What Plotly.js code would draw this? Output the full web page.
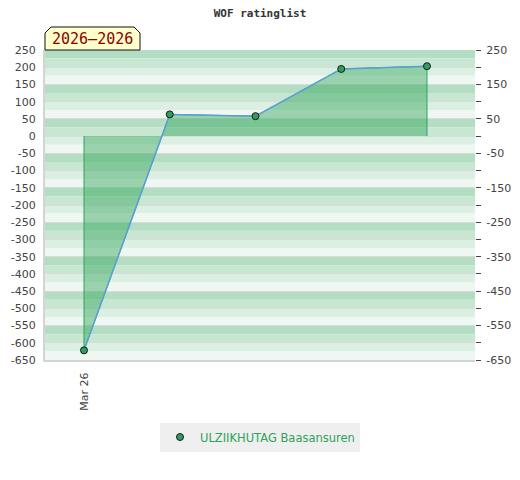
<!DOCTYPE html>
<html>
<head>
<meta charset="utf-8">
<script src="https://cdn.plot.ly/plotly-3.0.1.min.js"></script>
<style>html,body{margin:0;padding:0;background:#fff;}#chart{width:520px;height:480px;}</style>
</head>
<body>
<div id="chart"></div>
<script>
// ---- data ----
const xLabels = ["Mar 26", "", "", "", ""];
const ratings = [-622, 63, 58, 195, 203];
const playerName = "ULZIIKHUTAG Baasansuren";
const periodLabel = "2026\u20132026";
const chartTitle = "WOF ratinglist";
const yTicksLeft = [250,200,150,100,50,0,-50,-100,-150,-200,-250,-300,-350,-400,-450,-500,-550,-600,-650];
const yTicksRight = [250,150,50,-50,-150,-250,-350,-450,-550,-650];

// ---- layout helpers ----
const W = 520, H = 480;
const M = {l:45, r:45, t:50, b:120};
const yMin = -650, yMax = 250;
const xs = ratings.map((_, i) => i);
const px = v => (v - M.l) / (W - M.l - M.r);
const py = v => (H - M.b - v) / (H - M.t - M.b);

// background bands: 4 shades per 100 units
const bandColors = ["#b3dec3", "#c7e7d3", "#dbefe3", "#eef7f1"];
const shapes = [];
for (let top = yMax, k = 0; top > yMin; top -= 25, k++) {
  shapes.push({type:"rect", xref:"paper", yref:"y", x0:0, x1:1, y0:top-25, y1:top,
    fillcolor: bandColors[k % 4], line:{width:0}, layer:"below"});
}
// period box with cut corners
const bx0 = px(45), bx1 = px(140), by0 = py(50), by1 = py(27), cx = px(51), cxr = px(134), cy = py(33);
shapes.push({type:"path", xref:"paper", yref:"paper",
  path:`M ${bx0} ${by0} L ${bx0} ${cy} L ${cx} ${by1} L ${cxr} ${by1} L ${bx1} ${cy} L ${bx1} ${by0} Z`,
  fillcolor:"#ffffcc", line:{color:"#111", width:1}, layer:"above"});

// fill polygon built from the data
const polyX = [xs[0]].concat(xs, [xs[xs.length-1]]);
const polyY = [0].concat(ratings, [0]);

const traces = [
  {x: polyX, y: polyY, type:"scatter", mode:"lines", fill:"toself",
   fillcolor:"rgba(40,160,80,0.42)", line:{color:"#2ea35a", width:1},
   hoverinfo:"skip", showlegend:false},
  {x: xs, y: ratings, type:"scatter", mode:"lines+markers",
   line:{color:"#5aa0d8", width:1.5},
   marker:{size:7, color:"#2f9e5b", line:{color:"#1a1a1a", width:1}},
   showlegend:false, name: playerName},
  {x:[null], y:[null], type:"scatter", mode:"markers", name: playerName, yaxis:"y2",
   marker:{size:7, color:"#2f9e5b", line:{color:"#1a1a1a", width:1}}}
];

const tickFont = {family:"DejaVu Sans", size:11, color:"#444"};
const layout = {
  width: W, height: H, margin: M,
  paper_bgcolor:"#fff", plot_bgcolor:"#fff",
  title:{text: chartTitle, font:{family:"DejaVu Sans Mono", size:11, color:"#333", weight:"bold"},
         x:0.5, xanchor:"center", y:1-13/H, yanchor:"middle", xref:"paper"},
  xaxis:{range:[-0.455, 4.56], tickvals: xs, ticktext: xLabels, tickangle:-90,
         tickfont: tickFont, showgrid:false, zeroline:false, showline:true,
         linecolor:"#d4d4d4", linewidth:2, ticks:"", fixedrange:true, ticklabelstandoff:6},
  yaxis:{range:[yMin, yMax], tickvals: yTicksLeft, ticktext: yTicksLeft.map(String),
         tickfont: tickFont, showgrid:true, gridcolor:"#dadada", gridwidth:1,
         zeroline:false, showline:true, linecolor:"#d4d4d4", linewidth:2, ticks:"",
         ticklabelstandoff:5},
  yaxis2:{range:[yMin, yMax], overlaying:"y", side:"right",
          tickvals: yTicksLeft, ticktext: yTicksLeft.map(v => yTicksRight.includes(v) ? String(v) : ""),
          tickfont: tickFont, ticks:"outside", ticklen:5, tickcolor:"#444", tickwidth:1,
          showgrid:false, zeroline:false, showline:false, ticklabelstandoff:3},
  legend:{orientation:"h", x:0.5, xanchor:"center", y:py(437), yanchor:"middle",
          bgcolor:"#efefef", font:{family:"DejaVu Sans", size:11.5, color:"#2ea35a"}},
  shapes: shapes,
  annotations:[{xref:"paper", yref:"paper", x:px(92.5), y:py(39.5), xanchor:"center", yanchor:"middle",
    text: periodLabel, showarrow:false, font:{family:"DejaVu Sans Mono", size:15, color:"#8b0000"}}]
};

Plotly.newPlot("chart", traces, layout, {displayModeBar:false, staticPlot:true});
</script>
</body>
</html>
